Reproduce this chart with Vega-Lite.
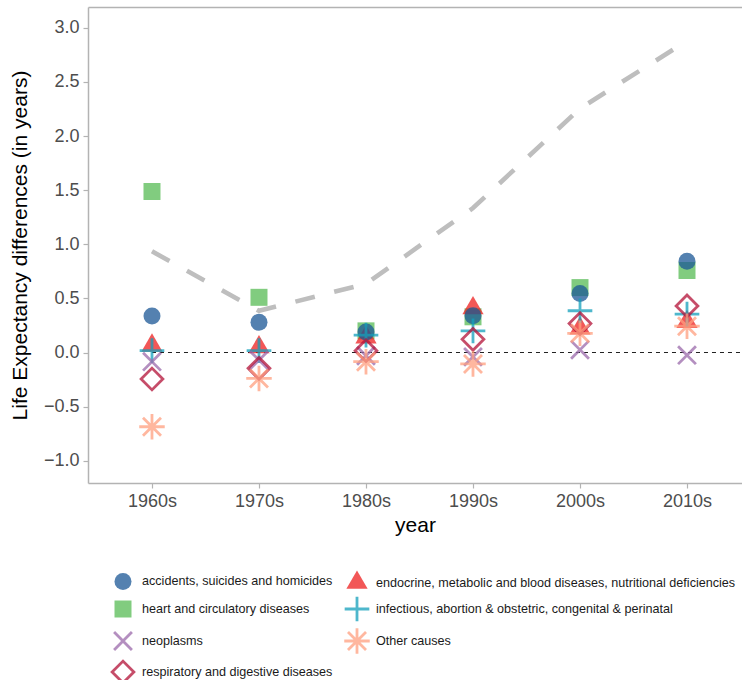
{
  "$schema": "https://vega.github.io/schema/vega-lite/v6.json",
  "autosize": {"type": "none"},
  "padding": {"left": 88, "top": 7, "right": 0, "bottom": 197},
  "width": 654,
  "height": 476,
  "background": "white",
  "config": {
    "view": {"stroke": null},
    "font": "Liberation Sans",
    "axis": {
      "grid": false,
      "domainColor": "#b3b3b3",
      "domainWidth": 1.5,
      "tickColor": "#b3b3b3",
      "tickWidth": 1.2,
      "tickSize": 5,
      "labelFont": "Liberation Sans",
      "labelFontSize": 18,
      "labelColor": "#4d4d4d",
      "labelPadding": 4,
      "titleFont": "Liberation Sans",
      "titleFontSize": 21,
      "titleFontWeight": "normal",
      "titleColor": "#000000"
    }
  },
  "datasets": {
    "total": [
      {"year": 1960, "total": 0.935},
      {"year": 1970, "total": 0.385},
      {"year": 1980, "total": 0.635},
      {"year": 1990, "total": 1.335},
      {"year": 2000, "total": 2.255},
      {"year": 2010, "total": 2.88}
    ],
    "causes": [
      {"year": 1960, "cause": "heart and circulatory diseases", "value": 1.488},
      {"year": 1970, "cause": "heart and circulatory diseases", "value": 0.51},
      {"year": 1980, "cause": "heart and circulatory diseases", "value": 0.2},
      {"year": 1990, "cause": "heart and circulatory diseases", "value": 0.33},
      {"year": 2000, "cause": "heart and circulatory diseases", "value": 0.6},
      {"year": 2010, "cause": "heart and circulatory diseases", "value": 0.758},
      {"year": 1960, "cause": "endocrine, metabolic and blood diseases, nutritional deficiencies", "value": 0.064},
      {"year": 1970, "cause": "endocrine, metabolic and blood diseases, nutritional deficiencies", "value": 0.049},
      {"year": 1980, "cause": "endocrine, metabolic and blood diseases, nutritional deficiencies", "value": 0.14},
      {"year": 1990, "cause": "endocrine, metabolic and blood diseases, nutritional deficiencies", "value": 0.41},
      {"year": 2000, "cause": "endocrine, metabolic and blood diseases, nutritional deficiencies", "value": 0.222},
      {"year": 2010, "cause": "endocrine, metabolic and blood diseases, nutritional deficiencies", "value": 0.283},
      {"year": 1960, "cause": "accidents, suicides and homicides", "value": 0.337},
      {"year": 1970, "cause": "accidents, suicides and homicides", "value": 0.279},
      {"year": 1980, "cause": "accidents, suicides and homicides", "value": 0.19},
      {"year": 1990, "cause": "accidents, suicides and homicides", "value": 0.34},
      {"year": 2000, "cause": "accidents, suicides and homicides", "value": 0.545},
      {"year": 2010, "cause": "accidents, suicides and homicides", "value": 0.843},
      {"year": 1960, "cause": "infectious, abortion & obstetric, congenital & perinatal", "value": 0.017},
      {"year": 1970, "cause": "infectious, abortion & obstetric, congenital & perinatal", "value": 0.017},
      {"year": 1980, "cause": "infectious, abortion & obstetric, congenital & perinatal", "value": 0.16},
      {"year": 1990, "cause": "infectious, abortion & obstetric, congenital & perinatal", "value": 0.2},
      {"year": 2000, "cause": "infectious, abortion & obstetric, congenital & perinatal", "value": 0.386},
      {"year": 2010, "cause": "infectious, abortion & obstetric, congenital & perinatal", "value": 0.355},
      {"year": 1960, "cause": "neoplasms", "value": -0.085},
      {"year": 1970, "cause": "neoplasms", "value": -0.07},
      {"year": 1980, "cause": "neoplasms", "value": -0.03},
      {"year": 1990, "cause": "neoplasms", "value": -0.04},
      {"year": 2000, "cause": "neoplasms", "value": 0.025},
      {"year": 2010, "cause": "neoplasms", "value": -0.025},
      {"year": 1960, "cause": "respiratory and digestive diseases", "value": -0.245},
      {"year": 1970, "cause": "respiratory and digestive diseases", "value": -0.146},
      {"year": 1980, "cause": "respiratory and digestive diseases", "value": 0.017},
      {"year": 1990, "cause": "respiratory and digestive diseases", "value": 0.122},
      {"year": 2000, "cause": "respiratory and digestive diseases", "value": 0.267},
      {"year": 2010, "cause": "respiratory and digestive diseases", "value": 0.43},
      {"year": 1960, "cause": "Other causes", "value": -0.686},
      {"year": 1970, "cause": "Other causes", "value": -0.24},
      {"year": 1980, "cause": "Other causes", "value": -0.085},
      {"year": 1990, "cause": "Other causes", "value": -0.106},
      {"year": 2000, "cause": "Other causes", "value": 0.177},
      {"year": 2010, "cause": "Other causes", "value": 0.243}
    ]
  },
  "resolve": {"axis": {"x": "independent"}},
  "layer": [
    {
      "data": {"name": "total"},
      "mark": {"type": "rule", "stroke": "#222222", "strokeWidth": 1.2, "strokeDash": [4, 4]},
      "encoding": {
        "y": {"datum": 0, "type": "quantitative", "scale": {"domain": [-1.206, 3.193], "nice": false, "zero": false}},
        "x": {"field": "year", "type": "quantitative", "aggregate": "min", "scale": {"domain": [1954.02, 2015.14], "nice": false, "zero": false},
          "axis": {"orient": "top", "labels": false, "ticks": false, "title": null, "domain": true}},
        "x2": {"datum": 2015.14}
      }
    },
    {
      "data": {"name": "total"},
      "mark": {"type": "line", "stroke": "#bebebe", "strokeWidth": 4.6, "strokeDash": [20, 20], "strokeCap": "butt"},
      "encoding": {
        "x": {"field": "year", "type": "quantitative", "axis": null},
        "y": {"field": "total", "type": "quantitative"}
      }
    },
    {
      "data": {"name": "causes"},
      "mark": {"type": "point", "filled": true, "size": 289, "opacity": 0.75, "strokeWidth": 2.8, "strokeCap": "butt"},
      "encoding": {
        "x": {"field": "year", "type": "quantitative",
          "axis": {"title": "year", "values": [1960, 1970, 1980, 1990, 2000, 2010], "labelExpr": "datum.value + 's'", "titlePadding": 4}},
        "y": {"field": "value", "type": "quantitative",
          "axis": {"title": "Life Expectancy differences (in years)", "values": [-1, -0.5, 0, 0.5, 1, 1.5, 2, 2.5, 3], "format": ".1f", "titlePadding": 13}},
        "fill": {"field": "cause", "type": "nominal",
          "scale": {
            "domain": ["accidents, suicides and homicides", "endocrine, metabolic and blood diseases, nutritional deficiencies", "heart and circulatory diseases", "infectious, abortion & obstetric, congenital & perinatal", "neoplasms", "Other causes", "respiratory and digestive diseases"],
            "range": ["#1c5896", "#ee1f1f", "#58bc55", "transparent", "transparent", "transparent", "transparent"]
          },
          "legend": {"title": null, "orient": "none", "direction": "horizontal", "legendX": 25, "legendY": 564, "columns": 2, "columnPadding": 5, "rowPadding": -5, "padding": 0, "labelFontSize": 12.6, "labelFont": "Liberation Sans", "labelColor": "#1a1a1a", "labelOffset": 9, "symbolSize": 289, "symbolStrokeWidth": 2.8, "symbolOpacity": 0.75, "labelLimit": 400}
        },
        "stroke": {"field": "cause", "type": "nominal",
          "scale": {
            "domain": ["accidents, suicides and homicides", "endocrine, metabolic and blood diseases, nutritional deficiencies", "heart and circulatory diseases", "infectious, abortion & obstetric, congenital & perinatal", "neoplasms", "Other causes", "respiratory and digestive diseases"],
            "range": ["transparent", "transparent", "transparent", "#13a0bb", "#9b6aab", "#ffa080", "#b31238"]
          },
          "legend": {"title": null, "orient": "none", "direction": "horizontal", "legendX": 25, "legendY": 564, "columns": 2, "columnPadding": 5, "rowPadding": -5, "padding": 0, "labelFontSize": 12.6, "labelFont": "Liberation Sans", "labelColor": "#1a1a1a", "labelOffset": 9, "symbolSize": 289, "symbolStrokeWidth": 2.8, "symbolOpacity": 0.75, "labelLimit": 400}
        },
        "shape": {"field": "cause", "type": "nominal",
          "scale": {
            "domain": ["accidents, suicides and homicides", "endocrine, metabolic and blood diseases, nutritional deficiencies", "heart and circulatory diseases", "infectious, abortion & obstetric, congenital & perinatal", "neoplasms", "Other causes", "respiratory and digestive diseases"],
            "range": ["circle", "M0,-1.44L1.25,0.72L-1.25,0.72Z", "square", "M-1.45,0L1.45,0M0,-1.45L0,1.45", "M-1.05,-1.05L1.05,1.05M-1.05,1.05L1.05,-1.05", "M-1.5,0L1.5,0M0,-1.5L0,1.5M-1.06,-1.06L1.06,1.06M-1.06,1.06L1.06,-1.06", "M-1.28,0L0,-1.28L1.28,0L0,1.28Z"]
          },
          "legend": {"title": null, "orient": "none", "direction": "horizontal", "legendX": 25, "legendY": 564, "columns": 2, "columnPadding": 5, "rowPadding": -5, "padding": 0, "labelFontSize": 12.6, "labelFont": "Liberation Sans", "labelColor": "#1a1a1a", "labelOffset": 9, "symbolSize": 289, "symbolStrokeWidth": 2.8, "symbolOpacity": 0.75, "labelLimit": 400}
        }
      }
    }
  ]
}
